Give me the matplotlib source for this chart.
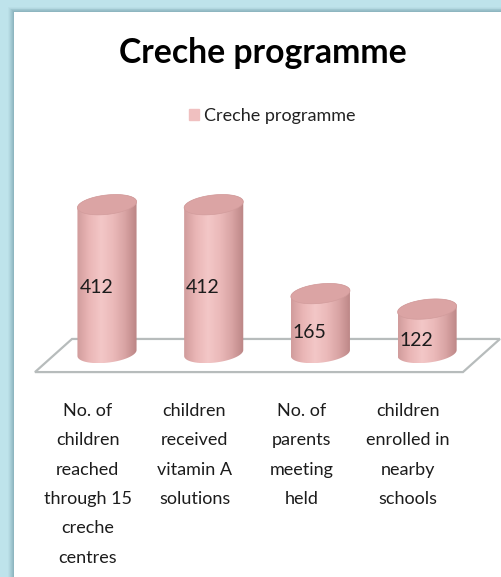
import numpy as np
import matplotlib.pyplot as plt
from matplotlib.patches import Polygon, Rectangle, Patch
from matplotlib.colors import LinearSegmentedColormap

title = "Creche programme"
series_name = "Creche programme"
categories = [
    "No. of\nchildren\nreached\nthrough 15\ncreche\ncentres",
    "children\nreceived\nvitamin A\nsolutions",
    "No. of\nparents\nmeeting\nheld",
    "children\nenrolled in\nnearby\nschools",
]
values = [412, 412, 165, 122]

W, H = 501, 577
FONT = ["Lato", "DejaVu Sans"]
plt.rcParams["font.family"] = FONT

fig = plt.figure(figsize=(W / 100, H / 100), dpi=100)
fig.patch.set_facecolor("#bee3eb")

# frame: white panel with a soft shadow, drawn in pixel coordinates
bg = fig.add_axes([0, 0, 1, 1])
bg.set_xlim(0, W)
bg.set_ylim(H, 0)
bg.axis("off")
for k in range(6):
    bg.add_patch(Rectangle((14 - 6 + k, 12 - 5 + k * 0.8), W, H, color="#6f9aa4",
                           alpha=0.06 + 0.03 * k, lw=0))
bg.add_patch(Rectangle((14, 12), W, H, color="white", lw=0))

# chart axes: x in category units, y in value units
px_x, x0 = 106.7, 107      # pixels per category, pixel of first bar
px_v, v0 = 0.36, 353       # pixels per value unit, pixel of zero
left, top, right, bottom = 30, 190, 501, 380
ax = fig.add_axes([left / W, 1 - bottom / H, (right - left) / W, (bottom - top) / H])
ax.set_facecolor("none")
for sp in ax.spines.values():
    sp.set_visible(False)

x = np.arange(len(values))

# floor of the 3d plot
depth = 0.347
floor_front, floor_back = -53, 39
fl = [(x[0] - 0.675, floor_front), (x[-1] + 0.336, floor_front),
      (x[-1] + 0.336 + depth, floor_back), (x[0] - 0.675 + depth, floor_back)]
ax.add_patch(Polygon(fl, closed=True, fill=False, ec="#b7bcbc", lw=1.6, zorder=1))

cyl_cmap = LinearSegmentedColormap.from_list(
    "cyl", ["#d19c9c", "#eab6b6", "#f3c7c7", "#ebbaba", "#d9a4a4", "#bb8585"])
grad = np.linspace(0, 1, 128)[None, :]

a, b, s = 0.277, 27, 30
for xi, v in zip(x, values):
    tb = np.linspace(np.pi, 2 * np.pi, 80)
    bx = xi + a * np.cos(tb)
    by = b * np.sin(tb) + s * a * np.cos(tb)
    tt = np.linspace(0, np.pi, 80)
    tx = xi + a * np.cos(tt)
    ty = v + b * np.sin(tt) + s * a * np.cos(tt)
    body = Polygon(np.column_stack([np.r_[bx, tx], np.r_[by, ty]]), closed=True,
                   fc="none", ec="none", zorder=3)
    ax.add_patch(body)
    im = ax.imshow(grad, extent=(xi - a, xi + a, by.min(), ty.max()), aspect="auto",
                   cmap=cyl_cmap, zorder=3, interpolation="bilinear")
    im.set_clip_path(body)
    t = np.linspace(0, 2 * np.pi, 160)
    ax.add_patch(Polygon(np.column_stack([xi + a * np.cos(t),
                                          v + b * np.sin(t) + s * a * np.cos(t)]),
                         closed=True, fc="#dba4a4", ec="#d29c9c", lw=0.5, zorder=4))
    ax.text(xi - 0.1, v / 2 - 25, str(v), ha="center", va="center",
            fontsize=14, color="#1c1c1c", zorder=5)

ax.set_xlim((left - x0) / px_x, (right - x0) / px_x)
ax.set_ylim((v0 - bottom) / px_v, (v0 - top) / px_v)
ax.set_yticks([])
ax.set_xticks(x - 0.18, categories, fontsize=13, color="#1c1c1c", linespacing=2.03)
ax.tick_params(axis="x", length=0, pad=16.5)

fig.text(263 / W, 1 - 63 / H, title, ha="center", va="baseline",
         fontsize=24.3, weight="bold", color="black")
ax.legend(handles=[Patch(color="#f0c0c0", label=series_name)], loc="center",
          bbox_to_anchor=(272 / W, 1 - 116 / H), bbox_transform=fig.transFigure,
          frameon=False, fontsize=13, handlelength=0.55, handleheight=0.55,
          handletextpad=0.3, labelcolor="#222222")

fig.savefig("out.png", dpi=100, facecolor=fig.get_facecolor())
